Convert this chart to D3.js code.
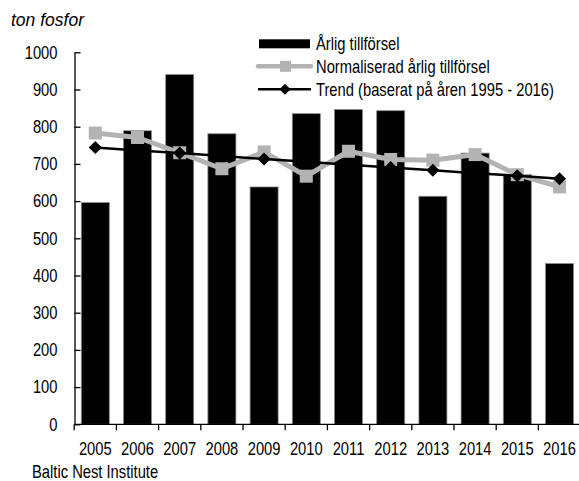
<!DOCTYPE html>
<html>
<head>
<meta charset="utf-8">
<script src="https://cdn.jsdelivr.net/npm/d3@7"></script>
<style>
  html, body { margin: 0; padding: 0; background: #fff; }
  svg { display: block; }
</style>
</head>
<body>
<svg id="chart" width="579" height="481"></svg>
<script>
const years = ["2005","2006","2007","2008","2009","2010","2011","2012","2013","2014","2015","2016"];
const annual = [596, 789, 940, 781, 638, 835, 846, 843, 613, 729, 671, 432];
const normalized = [783, 771, 730, 687, 732, 667, 734, 712, 710, 725, 671, 638];
const trend = [744, 736, 729, 721, 713, 706, 698, 690, 683, 675, 668, 660];
const yTicks = [0, 100, 200, 300, 400, 500, 600, 700, 800, 900, 1000];
const legendLabels = ["Årlig tillförsel", "Normaliserad årlig tillförsel", "Trend (baserat på åren 1995 - 2016)"];
const yTitle = "ton fosfor";
const source = "Baltic Nest Institute";

const svg = d3.select("#chart");
const FONT = "'Liberation Sans', Arial, sans-serif";
const SX = 0.82; // horizontal condensing to mimic a narrow face
const GRAY = "#b3b3b3";

function narrow(sel, xPos) {
  sel.attr("font-family", FONT).attr("font-size", 18).attr("fill", "#000")
     .attr("transform", `scale(${SX},1)`);
  if (xPos !== undefined) sel.attr("x", typeof xPos === "function" ? (d, i) => xPos(d, i) / SX : xPos / SX);
  return sel;
}

const x = d3.scaleBand().domain(years).range([74.2, 580.6]).paddingInner(0.336).paddingOuter(0.168);
const y = d3.scaleLinear().domain([0, 1000]).range([424.3, 52.3]);
const axisX = 74.5;

// bars
svg.append("g").selectAll("rect").data(annual).join("rect")
  .attr("x", (d, i) => x(years[i]))
  .attr("y", d => y(d))
  .attr("width", x.bandwidth())
  .attr("height", d => y(0) - y(d))
  .attr("fill", "#000")
  .attr("stroke", "#8a8a8a")
  .attr("stroke-width", 0.8);

// normalized line
const lineGen = d3.line().x((d, i) => x(years[i]) + x.bandwidth() / 2).y(d => y(d));
svg.append("path").datum(normalized).attr("d", lineGen)
  .attr("fill", "none").attr("stroke", GRAY).attr("stroke-width", 5).attr("stroke-linejoin", "round");
svg.append("g").selectAll("rect").data(normalized).join("rect")
  .attr("x", (d, i) => x(years[i]) + x.bandwidth() / 2 - 6.5)
  .attr("y", d => y(d) - 6.5)
  .attr("width", 13).attr("height", 13)
  .attr("fill", GRAY);

// trend line
svg.append("path").datum(trend).attr("d", lineGen)
  .attr("fill", "none").attr("stroke", "#000").attr("stroke-width", 2.5);
svg.append("g").selectAll("path").data(trend).join("path")
  .attr("transform", (d, i) => `translate(${x(years[i]) + x.bandwidth() / 2},${y(d)}) rotate(45)`)
  .attr("d", d3.symbol().type(d3.symbolSquare).size(85)())
  .attr("fill", "#000");

// y axis
const yAxis = d3.axisLeft(y).tickValues(yTicks).tickFormat(d3.format("d")).tickSize(-6).tickSizeOuter(0).tickPadding(17);
const gy = svg.append("g").attr("transform", `translate(${axisX},0)`).call(yAxis);
gy.select(".domain").attr("stroke", "#000").attr("stroke-width", 1.3);
gy.selectAll(".tick line").attr("stroke", "#000").attr("stroke-width", 1.3);
narrow(gy.selectAll(".tick text"), -17);

// x axis
const xAxis = d3.axisBottom(x).tickSize(0).tickPadding(17.5);
const gx = svg.append("g").attr("transform", `translate(0,${y(0)})`).call(xAxis);
gx.select(".domain").remove();
narrow(gx.selectAll(".tick text"));
gx.append("line").attr("x1", axisX).attr("x2", 579).attr("y1", 0).attr("y2", 0)
  .attr("stroke", "#000").attr("stroke-width", 1.3);
const bounds = years.map(yr => x(yr) - x.step() * x.paddingInner() / 2);
gx.selectAll(".btick").data(bounds).join("line")
  .attr("x1", d => d).attr("x2", d => d).attr("y1", 0).attr("y2", 6)
  .attr("stroke", "#000").attr("stroke-width", 1.3);

// titles
svg.append("text").attr("x", 11).attr("y", 26).text(yTitle)
  .attr("font-family", FONT).attr("font-style", "italic")
  .attr("font-size", 17.5).attr("fill", "#000");
narrow(svg.append("text").attr("y", 478).text(source), 32);

// legend
const lg = svg.append("g");
const rowY = [43.8, 66.3, 89.3];
lg.append("rect").attr("x", 259).attr("y", rowY[0] - 4.5).attr("width", 51).attr("height", 9).attr("fill", "#000");
lg.append("line").attr("x1", 258).attr("x2", 311).attr("y1", rowY[1]).attr("y2", rowY[1])
  .attr("stroke", GRAY).attr("stroke-width", 4.5).attr("stroke-linecap", "round");
lg.append("rect").attr("x", 280).attr("y", rowY[1] - 5.5).attr("width", 11).attr("height", 11).attr("fill", GRAY);
lg.append("line").attr("x1", 258).attr("x2", 311).attr("y1", rowY[2]).attr("y2", rowY[2])
  .attr("stroke", "#000").attr("stroke-width", 2.5);
lg.append("path").attr("transform", `translate(285,${rowY[2]}) rotate(45)`)
  .attr("d", d3.symbol().type(d3.symbolSquare).size(60)()).attr("fill", "#000");
narrow(lg.selectAll("text").data(legendLabels).join("text")
  .attr("y", (d, i) => rowY[i] + 6.5)
  .text(d => d), 316);
</script>
</body>
</html>
